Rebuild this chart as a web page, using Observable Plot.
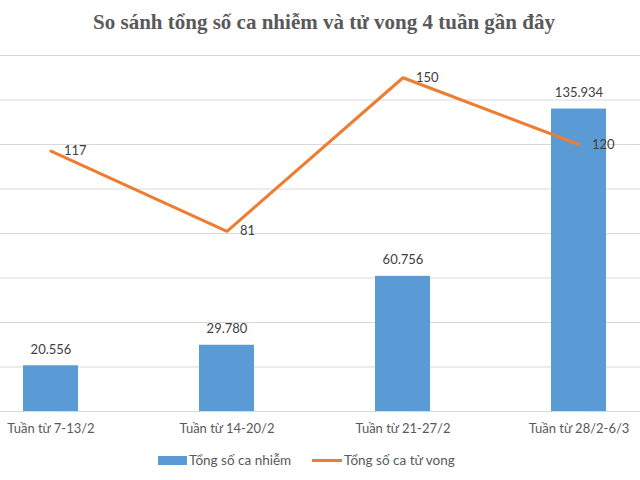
<!DOCTYPE html>
<html>
<head>
<meta charset="utf-8">
<script src="https://cdn.jsdelivr.net/npm/d3@7"></script>
<script src="https://cdn.jsdelivr.net/npm/@observablehq/plot@0.6"></script>
<style>
  html, body { margin: 0; padding: 0; background: #fff; }
  #wrap { width: 640px; height: 480px; position: relative; overflow: hidden; }
  #title { height: 48px; line-height: 44px; text-align: center; font-family: "Liberation Serif", serif; font-weight: bold; font-size: 21px; color: #595959; padding-left: 8px; }
  #legend { position: absolute; top: 451px; left: 0; width: 640px; height: 18px; font-family: Lato, sans-serif; font-size: 13.5px; color: #595959; }
  .item { position: absolute; top: 0; display: flex; align-items: center; height: 18px; }
  .sw { display: inline-block; margin-right: 2px; }
</style>
</head>
<body>
<div id="wrap">
  <div id="title">So sánh tổng số ca nhiễm và tử vong 4 tuần gần đây</div>
  <div id="chart"></div>
  <div id="legend">
    <div class="item" style="left:158px"><span class="sw" style="width:29px;height:9px;background:#5B9BD5"></span><span id="lg1"></span></div>
    <div class="item" style="left:312px"><span class="sw" style="width:30px;height:3px;background:#ED7D31"></span><span id="lg2"></span></div>
  </div>
</div>
<script>
const weeks = ["Tuần từ 7-13/2", "Tuần từ 14-20/2", "Tuần từ 21-27/2", "Tuần từ 28/2-6/3"];
const cases = [20556, 29780, 60756, 135934];
const deaths = [117, 81, 150, 120];
const caseLabels = ["20.556", "29.780", "60.756", "135.934"];
const gridTicks = [0, 20000, 40000, 60000, 80000, 100000, 120000, 140000, 160000];
const seriesNames = ["Tổng số ca nhiễm", "Tổng số ca tử vong"];
const deathScale = 1000; // secondary axis 0–160 mapped onto primary 0–160000

document.getElementById("lg1").textContent = seriesNames[0];
document.getElementById("lg2").textContent = seriesNames[1];

const data = weeks.map((w, i) => ({week: w, cases: cases[i], deaths: deaths[i], label: caseLabels[i]}));

const chart = Plot.plot({
  width: 640,
  height: 400,
  marginTop: 7,
  marginBottom: 37,
  marginLeft: 0,
  marginRight: 0,
  style: {fontFamily: "Lato, sans-serif", background: "white"},
  x: {domain: weeks, range: [-39, 667], paddingInner: 0.69, paddingOuter: 0.345, axis: null},
  y: {domain: [0, 160000], axis: null},
  marks: [
    Plot.ruleY(gridTicks, {stroke: "#d9d9d9", strokeWidth: 1}),
    Plot.barY(data, {x: "week", y: "cases", fill: "#5B9BD5"}),
    Plot.text(data, {x: "week", y: "cases", text: "label", dy: -16, fill: "#404040", fontSize: 13}),
    Plot.line(data, {x: "week", y: d => d.deaths * deathScale, stroke: "#ED7D31", strokeWidth: 3, strokeLinecap: "round", strokeLinejoin: "round"}),
    Plot.text(data, {x: "week", y: d => d.deaths * deathScale, text: d => String(d.deaths), dx: 13, textAnchor: "start", fill: "#404040", fontSize: 13}),
    Plot.text(data, {x: "week", y: 0, text: "week", dy: 17, fill: "#595959", fontSize: 13})
  ]
});
document.getElementById("chart").appendChild(chart);
</script>
</body>
</html>
